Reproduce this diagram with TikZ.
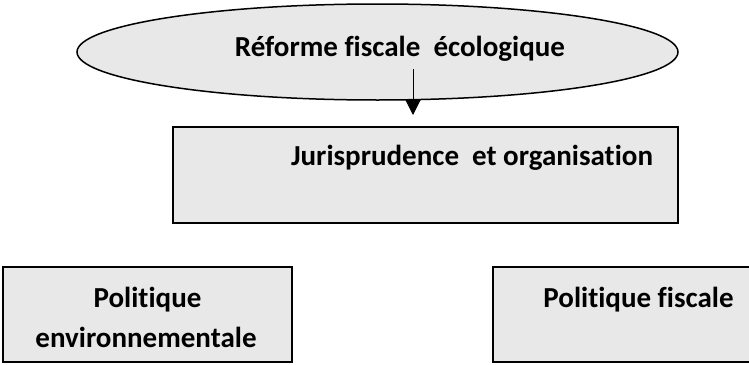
\documentclass[tikz,border=0pt]{standalone}
\usepackage{fontspec}
\setmainfont{Carlito}[Ligatures={NoCommon,NoRare}]
\usetikzlibrary{shapes.geometric,arrows.meta}
\definecolor{boxgray}{RGB}{232,232,232}
\tikzset{
  shapebox/.style={draw=black, fill=boxgray, line width=1.6pt},
  lbl/.style={font=\fontsize{29}{34}\selectfont\bfseries, inner sep=0pt, anchor=base},
}
\begin{document}
\begin{tikzpicture}[x=1pt,y=-1pt]
\useasboundingbox (0,0) rectangle (749,364);
\begin{scope}
\clip (0,0) rectangle (749,364);
% ellipse
\node[shapebox, ellipse, minimum width=601pt, minimum height=96pt, inner sep=0pt, line width=1.5pt] (ell) at (377.5,52) {};
\node[lbl] (t1) at (400,56.7) {Réforme fiscale \ écologique};
% box 1
\node[shapebox, rectangle, minimum width=505pt, minimum height=96pt, inner sep=0pt, line width=2pt] (jur) at (425.5,175) {};
\node[lbl] (t2) at (472,165) {Jurisprudence \ et organisation};
% box 2
\node[shapebox, rectangle, minimum width=289pt, minimum height=95pt, inner sep=0pt] (env) at (147.5,314.5) {};
\node[lbl] (t3) at (147.5,307) {Politique};
\node[lbl] (t4) at (146,347) {environnementale};
% box 3
\node[shapebox, rectangle, minimum width=300pt, minimum height=95pt, inner sep=0pt] (fis) at (643,314.5) {};
\node[lbl] (t5) at (638.5,307) {Politique fiscale};
% arrow
\coordinate (a1) at (413,69);
\coordinate (a2) at (413,115);
\draw[line width=1pt, -{Triangle[length=15pt,width=15pt]}] (a1) -- (a2);
\end{scope}
\end{tikzpicture}
\end{document}
